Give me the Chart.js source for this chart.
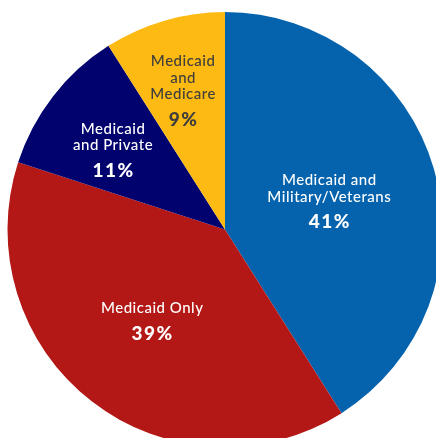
<!DOCTYPE html>
<html>
<head>
<meta charset="utf-8">
<script src="https://cdn.jsdelivr.net/npm/chart.js@4"></script>
<style>
  html, body { margin: 0; padding: 0; background: #fff; overflow: hidden; }
  .wrap { width: 436px; height: 438px; overflow: hidden; position: relative; }
  .wrap canvas { position: absolute; left: 0; top: 0; }
</style>
</head>
<body>
<div class="wrap">
  <canvas id="myChart" width="450" height="460"></canvas>
</div>
<script>
// Dados
const categories = [
  "Medicaid and\nMilitary/Veterans",
  "Medicaid Only",
  "Medicaid\nand Private",
  "Medicaid\nand\nMedicare"
];
const shares = [41, 39, 11, 9];

// Cores
const sliceColors = ['#0563ad', '#b31716', '#02026f', '#fdba12'];
const textColors = ['#ffffff', '#ffffff', '#ffffff', '#3d3d3d'];

// Posição do rótulo: [fração do ângulo da fatia, fração do raio]
const labelPlacement = [[0.506, 0.496], [0.506, 0.538], [0.44, 0.633], [0.48, 0.668]];

const labelFont = "Lato, 'Noto Sans', sans-serif";

// Escreve texto centrado com espaçamento entre letras
const spacedText = (ctx, text, x, y, spacing) => {
  ctx.letterSpacing = `${spacing}px`;
  ctx.fillText(text, x + spacing / 2, y);
  ctx.letterSpacing = '0px';
};

// Plugin que escreve os rótulos dentro das fatias
const sliceLabels = {
  id: 'sliceLabels',
  afterDatasetsDraw(chart) {
    const { ctx } = chart;
    const arcs = chart.getDatasetMeta(0).data;
    ctx.save();
    ctx.textAlign = 'center';
    ctx.textBaseline = 'middle';
    arcs.forEach((arc, i) => {
      const { x, y, startAngle, endAngle, outerRadius } = arc.getProps(
        ['x', 'y', 'startAngle', 'endAngle', 'outerRadius'], true);
      const [af, rf] = labelPlacement[i];
      const a = startAngle + (endAngle - startAngle) * af;
      const cx = x + Math.cos(a) * outerRadius * rf;
      const cy = y + Math.sin(a) * outerRadius * rf;
      const lines = categories[i].split('\n');
      const lineGap = 16.5, pctGap = 25;
      let ty = cy - ((lines.length - 1) * lineGap + pctGap) / 2;
      ctx.fillStyle = textColors[i];
      ctx.font = `500 15px ${labelFont}`;
      lines.forEach(line => {
        spacedText(ctx, line, cx, ty, 0.5);
        ty += lineGap;
      });
      ty += pctGap - lineGap;
      ctx.font = `900 19px ${labelFont}`;
      spacedText(ctx, `${shares[i]}%`, cx, ty, 1.5);
    });
    ctx.restore();
  }
};

new Chart(document.querySelector('#myChart').getContext('2d'), {
  type: 'pie',
  data: {
    labels: categories,
    datasets: [{
      data: shares,
      backgroundColor: sliceColors,
      borderWidth: 0
    }]
  },
  options: {
    responsive: false,
    animation: false,
    devicePixelRatio: 1,
    layout: { padding: { left: 7.5, right: 7.5, top: 12, bottom: 13 } },
    plugins: {
      legend: { display: false },
      tooltip: { enabled: false }
    }
  },
  plugins: [sliceLabels]
});
</script>
</body>
</html>
